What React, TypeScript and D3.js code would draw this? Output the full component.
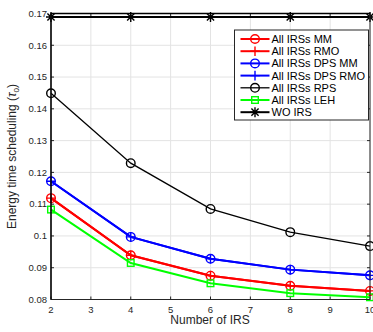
import React from "react";
import * as d3 from "d3";

const xValues = [2, 4, 6, 8, 10];
const mm = [0.1119, 0.0939, 0.0875, 0.0843, 0.0827];
const rmo = [0.1119, 0.0939, 0.0875, 0.0843, 0.0827];
const dpsMM = [0.1172, 0.0997, 0.0928, 0.0894, 0.0876];
const dpsRMO = [0.1172, 0.0997, 0.0928, 0.0894, 0.0876];
const rps = [0.1449, 0.1229, 0.1085, 0.1012, 0.0968];
const leh = [0.1083, 0.0915, 0.0851, 0.082, 0.0807];
const woIRS = [0.1689, 0.1689, 0.1689, 0.1689, 0.1689];

const xTicks = [2, 3, 4, 5, 6, 7, 8, 9, 10];
const yTicks = [0.08, 0.09, 0.1, 0.11, 0.12, 0.13, 0.14, 0.15, 0.16, 0.17];

const seriesNames = [
  "All IRSs MM",
  "All IRSs RMO",
  "All IRSs DPS MM",
  "All IRSs DPS RMO",
  "All IRSs RPS",
  "All IRSs LEH",
  "WO IRS",
];

type Marker = "circle" | "plus" | "square" | "star";

const series: { name: string; values: number[]; color: string; marker: Marker; width: number }[] = [
  { name: seriesNames[0], values: mm, color: "#ff0000", marker: "circle", width: 2 },
  { name: seriesNames[1], values: rmo, color: "#ff0000", marker: "plus", width: 2 },
  { name: seriesNames[2], values: dpsMM, color: "#0000ff", marker: "circle", width: 2 },
  { name: seriesNames[3], values: dpsRMO, color: "#0000ff", marker: "plus", width: 2 },
  { name: seriesNames[4], values: rps, color: "#000000", marker: "circle", width: 1.3 },
  { name: seriesNames[5], values: leh, color: "#00ff00", marker: "square", width: 2 },
  { name: seriesNames[6], values: woIRS, color: "#000000", marker: "star", width: 2 },
];

const W = 373;
const H = 332;
const left = 51;
const right = 370;
const top = 13.5;
const bottom = 299.5;

function MarkerShape({ type, x, y, color }: { type: Marker; x: number; y: number; color: string }) {
  const s = 4.3;
  if (type === "circle")
    return <circle cx={x} cy={y} r={s} fill="none" stroke={color} strokeWidth={1.4} />;
  if (type === "plus")
    return (
      <path d={`M${x - s - 0.5},${y}H${x + s + 0.5}M${x},${y - s - 0.5}V${y + s + 0.5}`} stroke={color} strokeWidth={1.4} />
    );
  if (type === "square")
    return <rect x={x - 3.3} y={y - 3.3} width={6.6} height={6.6} fill="none" stroke={color} strokeWidth={1.4} />;
  const r = 5;
  const d = r * 0.72;
  return (
    <path
      d={`M${x - r},${y}H${x + r}M${x},${y - r}V${y + r}M${x - d},${y - d}L${x + d},${y + d}M${x - d},${y + d}L${x + d},${y - d}`}
      stroke={color}
      strokeWidth={1.4}
    />
  );
}

export default function App() {
  const x = d3.scaleLinear().domain([2, 10]).range([left, right]);
  const y = d3.scaleLinear().domain([0.08, 0.17]).range([bottom, top]);
  const line = d3
    .line<number>()
    .x((_, i) => x(xValues[i]))
    .y((v) => y(v));

  const tickColor = "#262626";
  const fontFamily = "Liberation Sans, Arial, Helvetica, sans-serif";

  const legX = 234.5;
  const legY = 30;
  const legW = 134;
  const legH = 90;
  const legStep = 12.2;

  return (
    <svg width={W} height={H} style={{ position: "absolute", left: 0, top: 0, background: "#fff" }} fontFamily={fontFamily}>
      <rect x={0} y={0} width={W} height={H} fill="#fff" />
      {/* grid */}
      {xTicks.map((t) => (
        <line key={"gx" + t} x1={x(t)} x2={x(t)} y1={top} y2={bottom} stroke="#e3e3e3" strokeWidth={1} />
      ))}
      {yTicks.map((t) => (
        <line key={"gy" + t} x1={left} x2={right} y1={y(t)} y2={y(t)} stroke="#e3e3e3" strokeWidth={1} />
      ))}
      {/* ticks */}
      {xTicks.map((t) => (
        <g key={"tx" + t}>
          <line x1={x(t)} x2={x(t)} y1={bottom} y2={bottom - 3} stroke={tickColor} />
          <line x1={x(t)} x2={x(t)} y1={top} y2={top + 3} stroke={tickColor} />
          <text x={x(t)} y={bottom + 13} textAnchor="middle" fontSize={9.5} fill={tickColor}>
            {t}
          </text>
        </g>
      ))}
      {yTicks.map((t) => (
        <g key={"ty" + t}>
          <line x1={left} x2={left + 3} y1={y(t)} y2={y(t)} stroke={tickColor} />
          <line x1={right} x2={right - 3} y1={y(t)} y2={y(t)} stroke={tickColor} />
          <text x={left - 4} y={y(t) + 3.3} textAnchor="end" fontSize={9.5} fill={tickColor}>
            {d3.format("~g")(+t.toFixed(2))}
          </text>
        </g>
      ))}
      {/* series */}
      {series.map((s) => (
        <g key={s.name}>
          <path d={line(s.values) || ""} fill="none" stroke={s.color} strokeWidth={s.width} />
          {s.values.map((v, i) => (
            <MarkerShape key={i} type={s.marker} x={x(xValues[i])} y={y(v)} color={s.color} />
          ))}
        </g>
      ))}
      {/* axes box */}
      <rect x={left} y={top} width={right - left} height={bottom - top} fill="none" stroke={tickColor} strokeWidth={1} />
      <line x1={left} x2={left} y1={top} y2={bottom} stroke="#000" strokeWidth={1.3} />
      <line x1={left} x2={right} y1={top} y2={top} stroke="#000" strokeWidth={1.3} />
      {/* legend */}
      <rect x={legX} y={legY} width={legW} height={legH} fill="#fff" stroke="#262626" strokeWidth={1} />
      {series.map((s, i) => {
        const cy = legY + 9 + i * legStep;
        return (
          <g key={"leg" + s.name}>
            <line x1={legX + 6} x2={legX + 35} y1={cy} y2={cy} stroke={s.color} strokeWidth={s.width} />
            <MarkerShape type={s.marker} x={legX + 20.5} y={cy} color={s.color} />
            <text x={legX + 37} y={cy + 4} fontSize={11} fill="#000">
              {s.name}
            </text>
          </g>
        );
      })}
      {/* labels */}
      <text x={210} y={324} textAnchor="middle" fontSize={12} fill={tickColor}>
        Number of IRS
      </text>
      <text transform={`translate(16,${(top + bottom) / 2}) rotate(-90)`} textAnchor="middle" fontSize={12} fill={tickColor}>
        Energy time scheduling (
        <tspan fontStyle="italic">τ</tspan>
        <tspan fontSize={8} dy={3}>0</tspan>
        <tspan dy={-3}>)</tspan>
      </text>
    </svg>
  );
}
